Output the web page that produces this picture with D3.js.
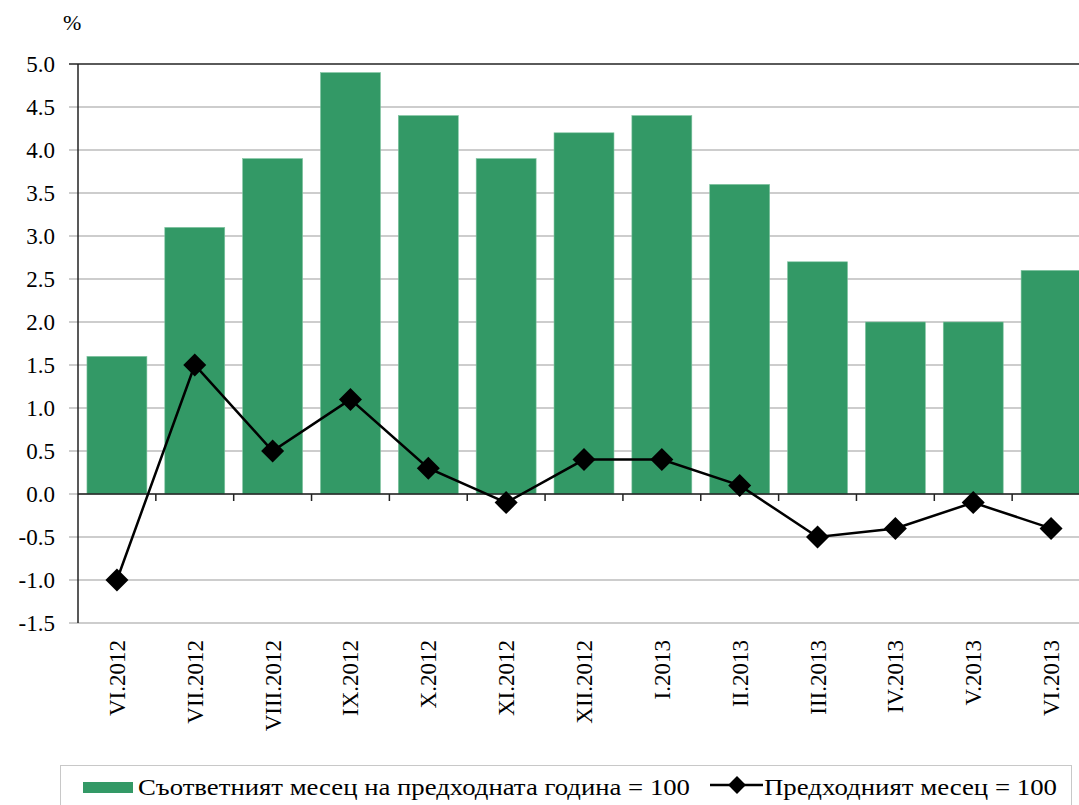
<!DOCTYPE html>
<html>
<head>
<meta charset="utf-8">
<script src="https://cdn.jsdelivr.net/npm/d3@7"></script>
<style>
  body { margin: 0; background: #fff; }
</style>
</head>
<body>
<svg id="chart" width="1079" height="805" font-family="'Liberation Serif', 'Times New Roman', 'DejaVu Serif', serif"></svg>
<script>
const months = ["VI.2012", "VII.2012", "VIII.2012", "IX.2012", "X.2012", "XI.2012", "XII.2012",
  "I.2013", "II.2013", "III.2013", "IV.2013", "V.2013", "VI.2013"];
// same month of previous year = 100
const yearOnYear = [1.6, 3.1, 3.9, 4.9, 4.4, 3.9, 4.2, 4.4, 3.6, 2.7, 2.0, 2.0, 2.6];
// previous month = 100
const monthOnMonth = [-1.0, 1.5, 0.5, 1.1, 0.3, -0.1, 0.4, 0.4, 0.1, -0.5, -0.4, -0.1, -0.4];
const yTicks = [-1.5, -1.0, -0.5, 0.0, 0.5, 1.0, 1.5, 2.0, 2.5, 3.0, 3.5, 4.0, 4.5, 5.0];

const serif = "Liberation Serif";
const svg = d3.select("#chart");

const x = d3.scaleBand()
  .domain(months)
  .range([78, 1090])
  .paddingInner(0.23)
  .paddingOuter(0.115);

const y = d3.scaleLinear()
  .domain([-1.5, 5])
  .range([623, 64]);

// gridlines
svg.append("g")
  .selectAll("line")
  .data(yTicks)
  .join("line")
  .attr("x1", 69)
  .attr("x2", 1079)
  .attr("y1", d => y(d))
  .attr("y2", d => y(d))
  .attr("stroke", d => d === 5 ? "#5a5a5a" : "#bdbdbd")
  .attr("stroke-width", d => d === 5 ? 2 : 1.5);

// bars
svg.append("g")
  .selectAll("rect")
  .data(yearOnYear)
  .join("rect")
  .attr("x", (d, i) => x(months[i]))
  .attr("y", d => y(d))
  .attr("width", x.bandwidth())
  .attr("height", d => y(0) - y(d))
  .attr("fill", "#339966")
  .attr("stroke", "#7fc4a0")
  .attr("stroke-width", 0.6);

// y axis
svg.append("line")
  .attr("x1", 78).attr("x2", 78)
  .attr("y1", y(5)).attr("y2", y(-1.5))
  .attr("stroke", "#222").attr("stroke-width", 1.5);

svg.append("g")
  .selectAll("text")
  .data(yTicks)
  .join("text")
  .attr("x", 55)
  .attr("y", d => y(d) + 8)
  .attr("text-anchor", "end")
  .attr("font-family", serif)
  .attr("font-size", 23)
  .text(d => d.toFixed(1));

svg.append("text")
  .attr("x", 63).attr("y", 30)
  .attr("font-family", serif)
  .attr("font-size", 22)
  .text("%");

// x axis at zero
svg.append("line")
  .attr("x1", 78).attr("x2", 1079)
  .attr("y1", y(0)).attr("y2", y(0))
  .attr("stroke", "#222").attr("stroke-width", 1.5);

svg.append("g")
  .selectAll("line")
  .data(months.slice(1))
  .join("line")
  .attr("x1", d => x(d) - x.step() * x.paddingInner() / 2)
  .attr("x2", d => x(d) - x.step() * x.paddingInner() / 2)
  .attr("y1", y(0))
  .attr("y2", y(0) + 7)
  .attr("stroke", "#222").attr("stroke-width", 1.5);

// x labels
svg.append("g")
  .selectAll("text")
  .data(months)
  .join("text")
  .attr("transform", d => `translate(${x(d) + x.bandwidth() / 2 + 8},640) rotate(-90)`)
  .attr("text-anchor", "end")
  .attr("font-family", serif)
  .attr("font-size", 23)
  .text(d => d);

// line series
const line = d3.line()
  .x((d, i) => x(months[i]) + x.bandwidth() / 2)
  .y(d => y(d));

svg.append("path")
  .datum(monthOnMonth)
  .attr("d", line)
  .attr("fill", "none")
  .attr("stroke", "#000")
  .attr("stroke-width", 2.5);

// square turned 45 degrees = even diamond
const diamond = d3.symbol().type(d3.symbolSquare).size(265);

svg.append("g")
  .selectAll("path")
  .data(monthOnMonth)
  .join("path")
  .attr("transform", (d, i) => `translate(${x(months[i]) + x.bandwidth() / 2},${y(d)}) rotate(45)`)
  .attr("d", diamond)
  .attr("fill", "#000");

// legend
const legend = svg.append("g");
legend.append("rect")
  .attr("x", 60.5).attr("y", 765.5)
  .attr("width", 1011).attr("height", 50)
  .attr("fill", "#fff")
  .attr("stroke", "#c8c8c8");

legend.append("rect")
  .attr("x", 83).attr("y", 782)
  .attr("width", 50).attr("height", 11)
  .attr("fill", "#339966");

legend.append("text")
  .attr("x", 138).attr("y", 795)
  .attr("font-family", serif)
  .attr("font-size", 23)
  .attr("textLength", 552)
  .attr("lengthAdjust", "spacingAndGlyphs")
  .text("Съответният месец на предходната година = 100");

legend.append("line")
  .attr("x1", 710).attr("x2", 763)
  .attr("y1", 785).attr("y2", 785)
  .attr("stroke", "#000").attr("stroke-width", 2.5);

legend.append("path")
  .attr("transform", "translate(737,785) rotate(45)")
  .attr("d", d3.symbol().type(d3.symbolSquare).size(160))
  .attr("fill", "#000");

legend.append("text")
  .attr("x", 764).attr("y", 795)
  .attr("font-family", serif)
  .attr("font-size", 23)
  .attr("textLength", 293)
  .attr("lengthAdjust", "spacingAndGlyphs")
  .text("Предходният месец = 100");
</script>
</body>
</html>
